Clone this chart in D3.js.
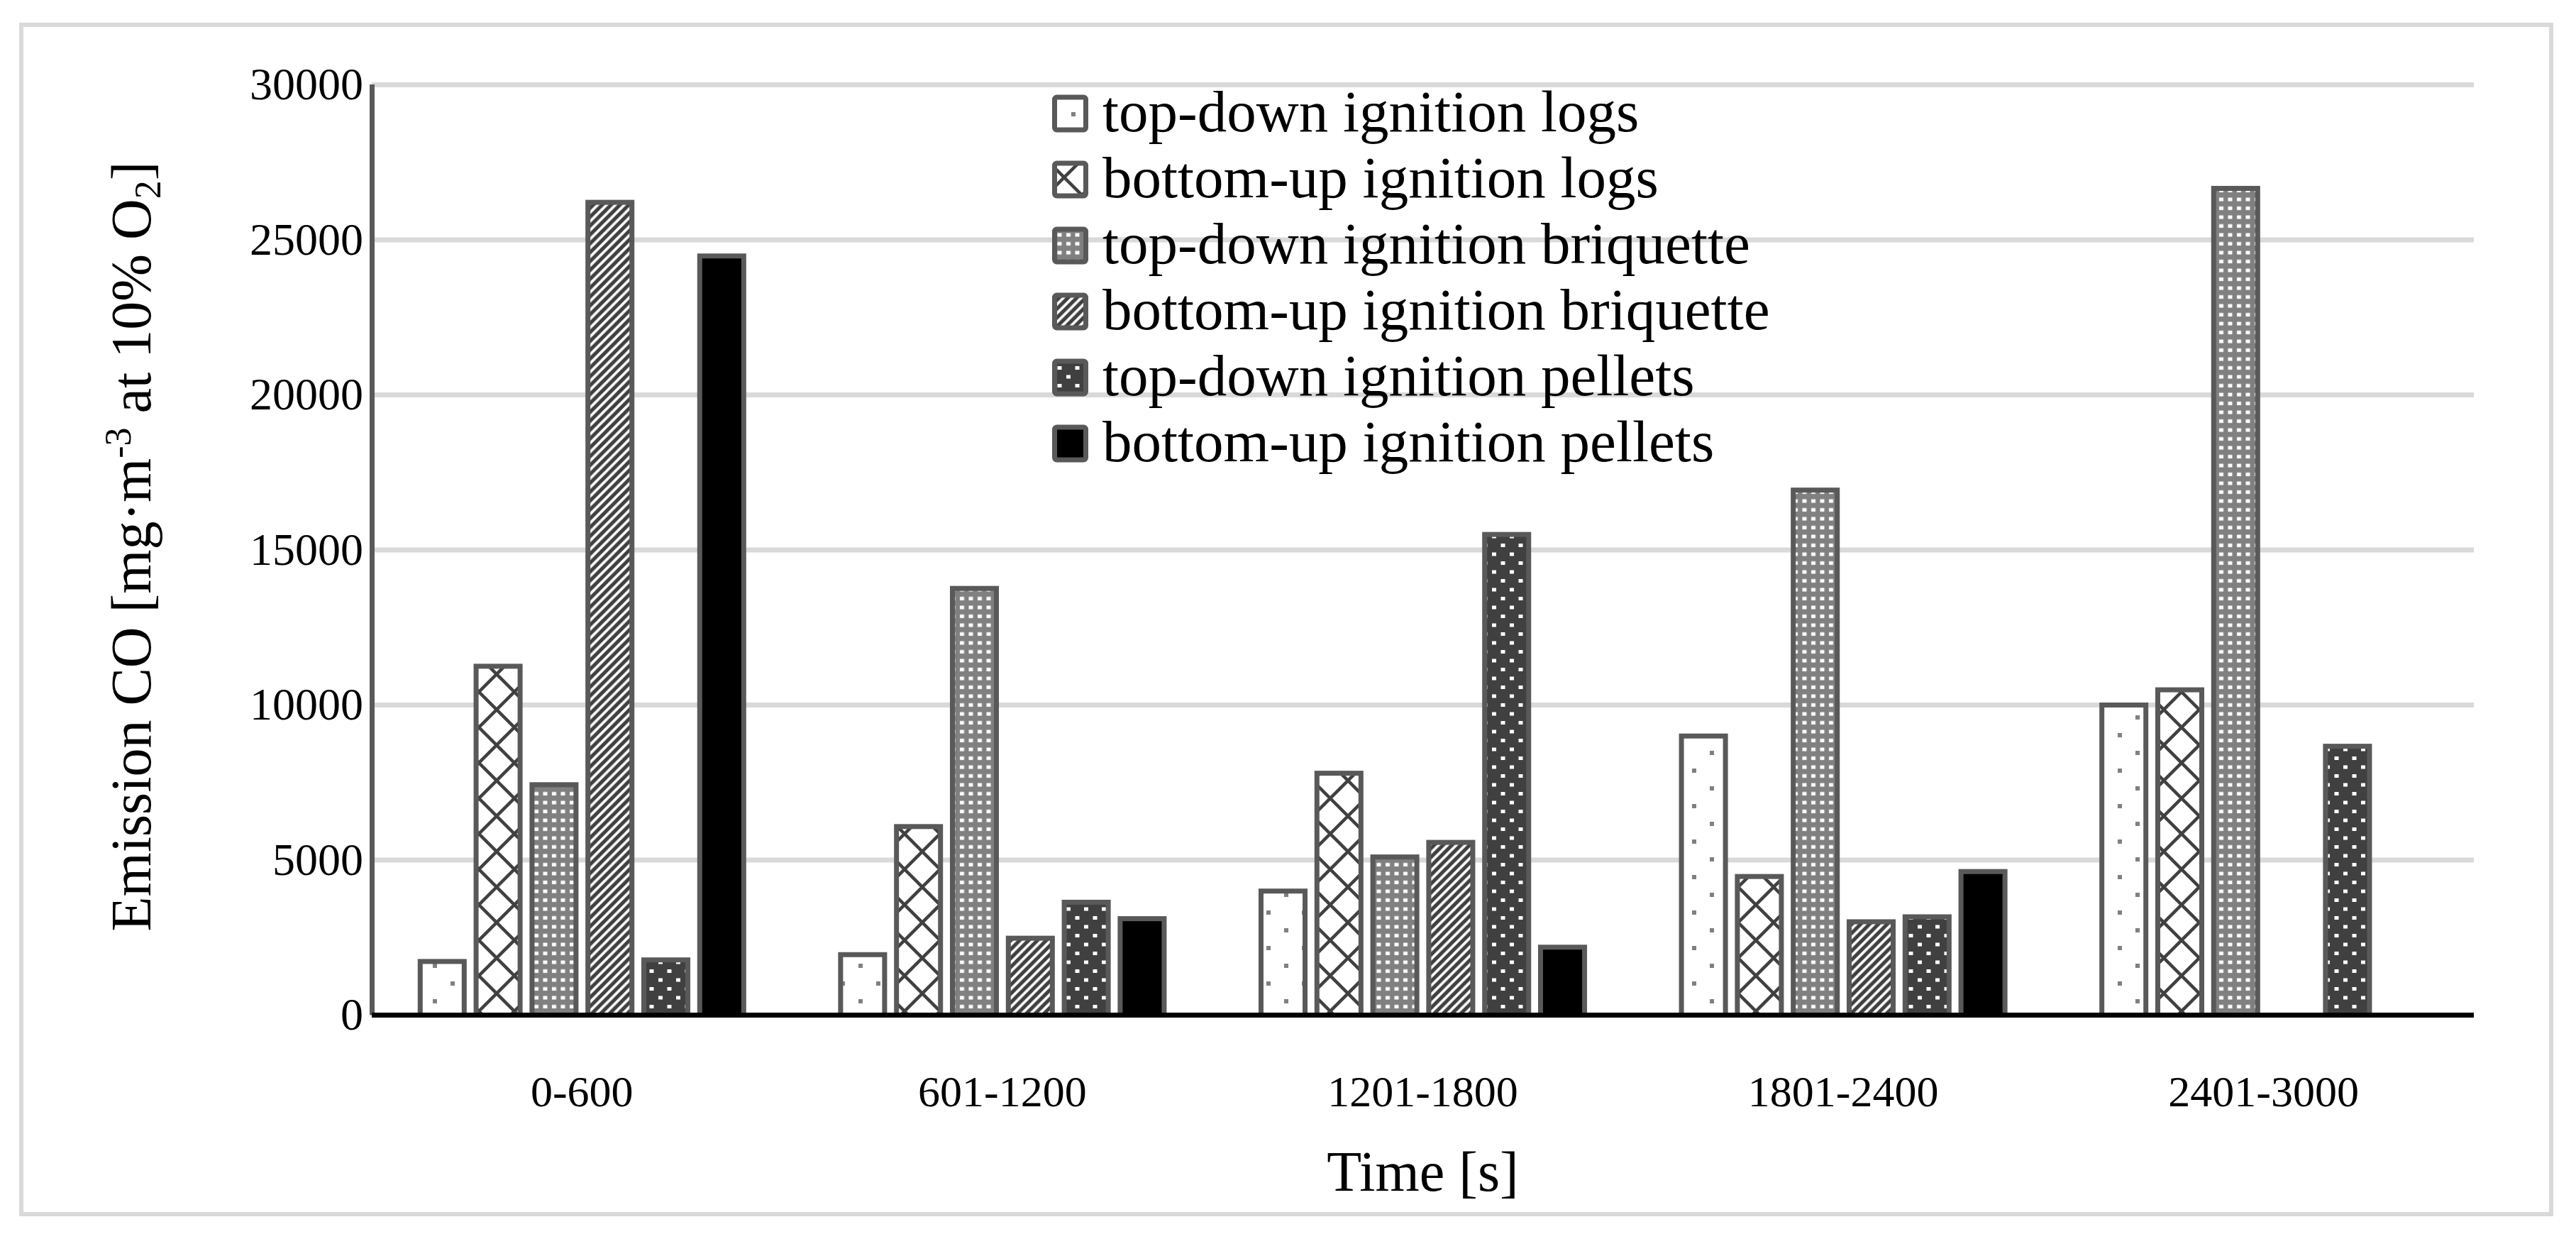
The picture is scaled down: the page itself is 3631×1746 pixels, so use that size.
<!DOCTYPE html>
<html>
<head>
<meta charset="utf-8">
<script src="https://cdn.jsdelivr.net/npm/d3@7"></script>
<style>
  html, body { margin: 0; padding: 0; background: #ffffff; }
  svg { display: block; }
  text { font-family: "Liberation Serif", "Times New Roman", serif; fill: #000; }
</style>
</head>
<body>
<script>
// ---------------- data ----------------
const categories = ["0-600", "601-1200", "1201-1800", "1801-2400", "2401-3000"];
const seriesNames = [
  "top-down ignition logs",
  "bottom-up ignition logs",
  "top-down ignition briquette",
  "bottom-up ignition briquette",
  "top-down ignition pellets",
  "bottom-up ignition pellets"
];
const topDownLogs      = [1730, 1950, 4000, 9000, 10000];
const bottomUpLogs     = [11250, 6080, 7800, 4470, 10490];
const topDownBriquette = [7430, 13760, 5100, 16930, 26660];
const bottomUpBriquette= [26210, 2480, 5570, 3010, null];
const topDownPellets   = [1780, 3640, 15500, 3170, 8670];
const bottomUpPellets  = [24480, 3110, 2190, 4630, null];
const yTicks = [0, 5000, 10000, 15000, 20000, 25000, 30000];

const seriesValues = [topDownLogs, bottomUpLogs, topDownBriquette, bottomUpBriquette, topDownPellets, bottomUpPellets];
const seriesFill = ["url(#pTdLogs)", "url(#pBuLogs)", "url(#pTdBriq)", "url(#pBuBriq)", "url(#pTdPell)", "#000000"];

// ---------------- layout ----------------
const W = 3631, H = 1746;
const plotLeft = 524, plotRight = 3487, plotTop = 119.5, plotBottom = 1430.5;

const svg = d3.select("body").append("svg").attr("width", W).attr("height", H);

// ---------------- patterns ----------------
const defs = svg.append("defs");
function pattern(id, w, h) {
  return defs.append("pattern").attr("id", id).attr("patternUnits", "userSpaceOnUse")
    .attr("x", 0).attr("y", 0).attr("width", w).attr("height", h);
}
{ // top-down logs: sparse gray dots
  const p = pattern("pTdLogs", 50, 50);
  p.append("rect").attr("width", 50).attr("height", 50).attr("fill", "#fff");
  p.append("rect").attr("x", 10).attr("y", 8).attr("width", 6).attr("height", 6).attr("fill", "#808080");
  p.append("rect").attr("x", 35).attr("y", 33).attr("width", 6).attr("height", 6).attr("fill", "#808080");
}
{ // bottom-up logs: diamond lattice
  const p = pattern("pBuLogs", 50, 50);
  p.append("rect").attr("width", 50).attr("height", 50).attr("fill", "#fff");
  p.append("path").attr("d", "M-10,-10L60,60M60,-10L-10,60").attr("stroke", "#404040").attr("stroke-width", 4.5).attr("fill", "none");
}
{ // top-down briquette: gray with white dots
  const p = pattern("pTdBriq", 12.5, 12.5);
  p.append("rect").attr("width", 12.5).attr("height", 12.5).attr("fill", "#808080");
  p.append("rect").attr("x", 3).attr("y", 3.5).attr("width", 6).attr("height", 5).attr("fill", "#fff");
}
{ // bottom-up briquette: upward diagonal stripes
  const p = pattern("pBuBriq", 12.5, 12.5);
  p.append("rect").attr("width", 12.5).attr("height", 12.5).attr("fill", "#fff");
  p.append("path").attr("d", "M-3.125,3.125L3.125,-3.125M-1,13.5L13.5,-1M9.375,15.625L15.625,9.375")
    .attr("stroke", "#404040").attr("stroke-width", 5.2).attr("fill", "none");
}
{ // top-down pellets: dark with white dots
  const p = pattern("pTdPell", 25, 25);
  p.append("rect").attr("width", 25).attr("height", 25).attr("fill", "#404040");
  p.append("rect").attr("x", 3).attr("y", 3.5).attr("width", 6).attr("height", 5).attr("fill", "#fff");
  p.append("rect").attr("x", 15.5).attr("y", 16).attr("width", 6).attr("height", 5).attr("fill", "#fff");
}

// ---------------- frame ----------------
svg.append("rect").attr("x", 30).attr("y", 35).attr("width", 3566).attr("height", 1676)
  .attr("fill", "#fff").attr("stroke", "#d9d9d9").attr("stroke-width", 6);

// ---------------- scales ----------------
const x0 = d3.scaleBand().domain(categories).range([plotLeft, plotRight]).padding(0);
const x1 = d3.scaleBand().domain(d3.range(seriesNames.length)).range([0, x0.bandwidth()])
  .paddingInner(0.124).paddingOuter(0.822);
const y = d3.scaleLinear().domain([0, 30000]).range([plotBottom, plotTop]);

// gridlines
svg.append("g").selectAll("line").data(yTicks.filter(t => t > 0)).join("line")
  .attr("x1", plotLeft).attr("x2", plotRight)
  .attr("y1", d => y(d)).attr("y2", d => y(d))
  .attr("stroke", "#d9d9d9").attr("stroke-width", 7);

// bars
const sw = 7;
const barG = svg.append("g");
categories.forEach((cat, ci) => {
  seriesValues.forEach((vals, si) => {
    const v = vals[ci];
    if (v == null) return;
    barG.append("rect")
      .attr("x", x0(cat) + x1(si) + sw / 2)
      .attr("y", y(v))
      .attr("width", x1.bandwidth() - sw)
      .attr("height", y(0) - y(v))
      .attr("fill", seriesFill[si])
      .attr("stroke", "#595959").attr("stroke-width", sw);
  });
});

// y axis
const yAxis = svg.append("g").attr("transform", `translate(${plotLeft + 0.5},0)`)
  .call(d3.axisLeft(y).tickValues(yTicks).tickSize(0).tickPadding(12.5).tickFormat(d3.format("d")));
yAxis.select(".domain").remove();
yAxis.selectAll("text").attr("font-size", 64).attr("font-family", "Liberation Serif");
svg.append("line").attr("x1", plotLeft + 0.5).attr("x2", plotLeft + 0.5).attr("y1", plotTop - 0.5).attr("y2", plotBottom)
  .attr("stroke", "#595959").attr("stroke-width", 7);

// x axis
const xAxis = svg.append("g").attr("transform", `translate(0,${plotBottom})`)
  .call(d3.axisBottom(x0).tickSize(0).tickPadding(84));
xAxis.select(".domain").remove();
xAxis.selectAll("text").attr("font-size", 62).attr("font-family", "Liberation Serif");
svg.append("line").attr("x1", plotLeft).attr("x2", plotRight).attr("y1", plotBottom).attr("y2", plotBottom)
  .attr("stroke", "#000").attr("stroke-width", 7);

// axis titles
svg.append("text").attr("x", (plotLeft + plotRight) / 2).attr("y", 1678)
  .attr("text-anchor", "middle").attr("font-size", 80).text("Time [s]");

const yt = svg.append("text").attr("transform", "translate(212,770) rotate(-90)")
  .attr("text-anchor", "middle").attr("font-size", 80);
yt.append("tspan").text("Emission CO [mg·m");
yt.append("tspan").attr("dy", -28).attr("font-size", 52).text("-3");
yt.append("tspan").attr("dy", 28).text(" at 10% O");
yt.append("tspan").attr("dy", 14).attr("font-size", 52).text("2");
yt.append("tspan").attr("dy", -14).text("]");

// legend
const legend = svg.append("g");
seriesNames.forEach((name, i) => {
  const cy = 160 + i * 93;
  legend.append("rect").attr("x", 1486.5).attr("y", cy - 23).attr("width", 44).attr("height", 46)
    .attr("rx", 3).attr("fill", seriesFill[i]).attr("stroke", "#595959").attr("stroke-width", 7);
  legend.append("text").attr("x", 1554).attr("y", cy + 25).attr("font-size", 83).text(name);
});
</script>
</body>
</html>
